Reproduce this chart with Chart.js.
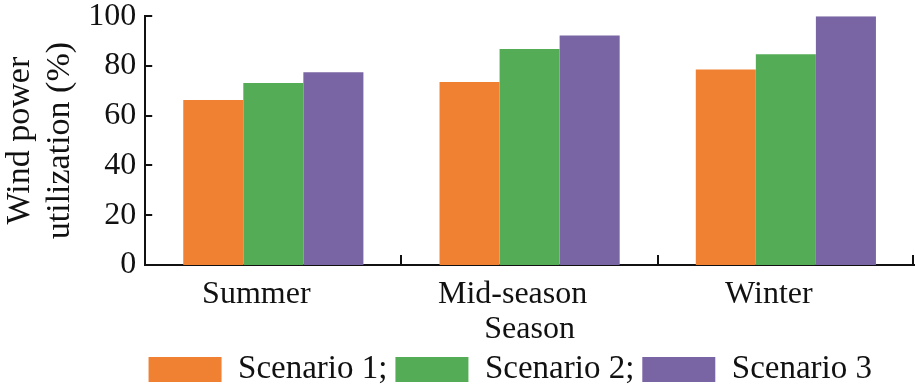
<!DOCTYPE html>
<html>
<head>
<meta charset="utf-8">
<script src="https://cdn.jsdelivr.net/npm/chart.js@4/dist/chart.umd.min.js"></script>
<style>
  html, body { margin: 0; padding: 0; background: #fff; }
  #wrap { width: 915px; height: 390px; }
</style>
</head>
<body>
<div id="wrap"><canvas id="chart" width="915" height="390"></canvas></div>
<script>
// Chart data
const seasons = ['Summer', 'Mid-season', 'Winter'];
const scenario1 = [66.3, 73.6, 78.6];
const scenario2 = [73.2, 86.8, 84.7];
const scenario3 = [77.5, 92.2, 100];
const seriesNames = ['Scenario 1', 'Scenario 2', 'Scenario 3'];
const yTicks = [0, 20, 40, 60, 80, 100];

const colors = ['rgb(240, 129, 51)', 'rgb(84, 173, 86)', 'rgb(121, 100, 164)'];
const FONT = '"Liberation Serif", "Times New Roman", serif';

// Inward tick marks on both axes
const innerTicks = {
    id: 'innerTicks',
    afterDraw(chart) {
        const ctx = chart.ctx;
        const y = chart.scales.y;
        const area = chart.chartArea;
        ctx.save();
        ctx.strokeStyle = '#111';
        ctx.lineWidth = 2;
        ctx.beginPath();
        yTicks.forEach(v => {
            const py = Math.round(y.getPixelForValue(v));
            ctx.moveTo(area.left, py);
            ctx.lineTo(area.left + 7, py);
        });
        const step = (area.right - area.left) / seasons.length;
        for (let i = 1; i <= seasons.length; i++) {
            const px = Math.round(area.left + step * i) - (i === seasons.length ? 1 : 0);
            ctx.moveTo(px, area.bottom);
            ctx.lineTo(px, area.bottom - 10);
        }
        ctx.stroke();
        ctx.restore();
    }
};

// Legend sits a bit left of the right edge and low in the original figure
const legendShift = {
    id: 'legendShift',
    afterLayout(chart) {
        chart.legend.right -= 34;
        chart.legend.top += 6;
        chart.legend.bottom += 6;
    }
};

const datasets = [scenario1, scenario2, scenario3].map((data, i) => ({
    label: seriesNames[i],
    data: data,
    backgroundColor: colors[i],
    borderWidth: 0,
    barPercentage: 1.0,
    categoryPercentage: 0.703
}));

new Chart(document.getElementById('chart'), {
    type: 'bar',
    data: { labels: seasons, datasets: datasets },
    options: {
        responsive: false,
        animation: false,
        devicePixelRatio: 1,
        layout: { padding: { left: 1, right: 1, top: 0, bottom: 0 } },
        plugins: {
            tooltip: { enabled: false },
            legend: {
                position: 'bottom',
                align: 'end',
                labels: {
                    color: '#111',
                    font: { family: FONT, size: 33 },
                    boxWidth: 73,
                    boxHeight: 25,
                    padding: 8,
                    generateLabels(chart) {
                        return chart.data.datasets.map((ds, i) => ({
                            text: ds.label + (i < chart.data.datasets.length - 1 ? ';' : ''),
                            fillStyle: ds.backgroundColor,
                            strokeStyle: ds.backgroundColor,
                            lineWidth: 0,
                            fontColor: '#111',
                            datasetIndex: i
                        }));
                    }
                }
            }
        },
        scales: {
            x: {
                grid: { display: false, drawTicks: false },
                border: { color: '#111', width: 2 },
                ticks: {
                    color: '#111',
                    font: { family: FONT, size: 32, lineHeight: 1.0 },
                    padding: 14,
                    labelOffset: -17
                },
                title: {
                    display: true,
                    text: 'Season',
                    color: '#111',
                    font: { family: FONT, size: 32, lineHeight: 1.0 },
                    padding: { top: -11, bottom: -7 }
                }
            },
            y: {
                min: 0,
                max: 100,
                afterBuildTicks(scale) {
                    scale.ticks = yTicks.map(v => ({ value: v }));
                },
                grid: { display: false, drawTicks: false },
                border: { color: '#111', width: 2 },
                ticks: {
                    color: '#111',
                    font: { family: FONT, size: 32, lineHeight: 0.45 },
                    padding: 9
                },
                title: {
                    display: true,
                    text: ['Wind power', 'utilization (%)'],
                    color: '#111',
                    font: { family: FONT, size: 34, lineHeight: 1.15 },
                    padding: { top: 0, bottom: 0 }
                }
            }
        }
    },
    plugins: [innerTicks, legendShift]
});
</script>
</body>
</html>
